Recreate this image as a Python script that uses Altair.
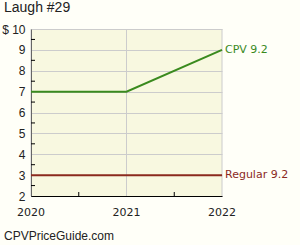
import altair as alt
import pandas as pd

years = [2020, 2021, 2022]
year_labels = ["2020", "2021", "2022"]
cpv = [7, 7, 9]
regular = [3, 3, 3]
series_names = ["CPV", "Regular"]
end_labels = ["CPV 9.2", "Regular 9.2"]
colors = ["#3a8a1e", "#8b2a1e"]
y_ticks = [2, 3, 4, 5, 6, 7, 8, 9, 10]
y_minor = [2.5, 3.5, 4.5, 5.5, 6.5, 7.5, 8.5, 9.5]
x_minor = [2020.5, 2021.5]

rows = []
for name, vals in zip(series_names, [cpv, regular]):
    for yr, v in zip(years, vals):
        rows.append({"year": yr, "value": v, "series": name})
df = pd.DataFrame(rows)
lab = pd.DataFrame({"year": [years[-1]] * 2, "value": [cpv[-1], regular[-1]],
                    "series": series_names, "label": end_labels})
xdf = pd.DataFrame({"year": years, "label": year_labels})

W, H = 191, 167
PL, PT = 31, 29
xs = alt.Scale(domain=[2020, 2022], nice=False, zero=False)
ys = alt.Scale(domain=[2, 10], nice=False, zero=False)
cs = alt.Scale(domain=series_names, range=colors)

xaxis = alt.Axis(values=years, grid=False, domainColor="#000000", ticks=False, labels=False,
                 title=None)
yaxis = alt.Axis(values=y_ticks, grid=True, gridColor="#cccccc", domainColor="#000000",
                 ticks=False, labelFont="Liberation Sans", labelFontSize=12, labelColor="#222222",
                 labelPadding=6, title=None, labelOverlap=False, labelFlush=False,
                 labelExpr="datum.value == 10 ? '$ 10' : datum.label")

xgrid = alt.Chart(xdf).mark_rule(color="#cccccc", strokeWidth=1).encode(
    x=alt.X("year:Q", scale=xs, axis=xaxis), y=alt.value(0), y2=alt.value(H))
xlabels = alt.Chart(xdf).mark_text(align="center", baseline="middle", font="DejaVu Sans",
                                   fontSize=11, color="#222222").encode(
    x=alt.X("year:Q", scale=xs, axis=xaxis), y=alt.value(H + 17), text="label:N")
lines = alt.Chart(df).mark_line(strokeWidth=2, clip=False).encode(
    x=alt.X("year:Q", scale=xs, axis=xaxis),
    y=alt.Y("value:Q", scale=ys, axis=yaxis),
    color=alt.Color("series:N", scale=cs, legend=None),
    detail="series:N",
)
texts = alt.Chart(lab).mark_text(align="left", baseline="middle", dx=3, font="DejaVu Sans",
                                  fontSize=11).encode(
    x=alt.X("year:Q", scale=xs, axis=xaxis),
    y=alt.Y("value:Q", scale=ys, axis=yaxis),
    color=alt.Color("series:N", scale=cs, legend=None),
    text="label:N",
)
ymin = alt.Chart(pd.DataFrame({"v": y_minor})).mark_rule(color="#000000", strokeWidth=1).encode(
    y=alt.Y("v:Q", scale=ys, axis=yaxis), x=alt.value(0), x2=alt.value(4))
xmin = alt.Chart(pd.DataFrame({"v": x_minor})).mark_rule(color="#000000", strokeWidth=1).encode(
    x=alt.X("v:Q", scale=xs, axis=xaxis), y=alt.value(H), y2=alt.value(H - 4))
footer = alt.Chart(pd.DataFrame({"t": ["CPVPriceGuide.com"]})).mark_text(
    align="left", baseline="middle", font="Liberation Sans", fontSize=12, color="#222222").encode(
    x=alt.value(-27), y=alt.value(H + 40), text="t:N")

chart = alt.layer(xgrid, lines, ymin, xmin, texts, xlabels, footer).properties(
    width=W, height=H,
    title=alt.TitleParams("Laugh #29", anchor="start", frame="group", font="Liberation Sans",
                          fontSize=14, fontWeight="normal", color="#222222", offset=8, dx=-27),
    autosize=alt.AutoSizeParams(type="none"),
    padding={"left": PL, "top": PT, "right": 300 - PL - W, "bottom": 245 - PT - H},
    background="#fffff8",
).configure_view(fill="#f8f8e0", stroke=None)

chart.save("out.html", embed_options={"renderer": "svg", "actions": False})
